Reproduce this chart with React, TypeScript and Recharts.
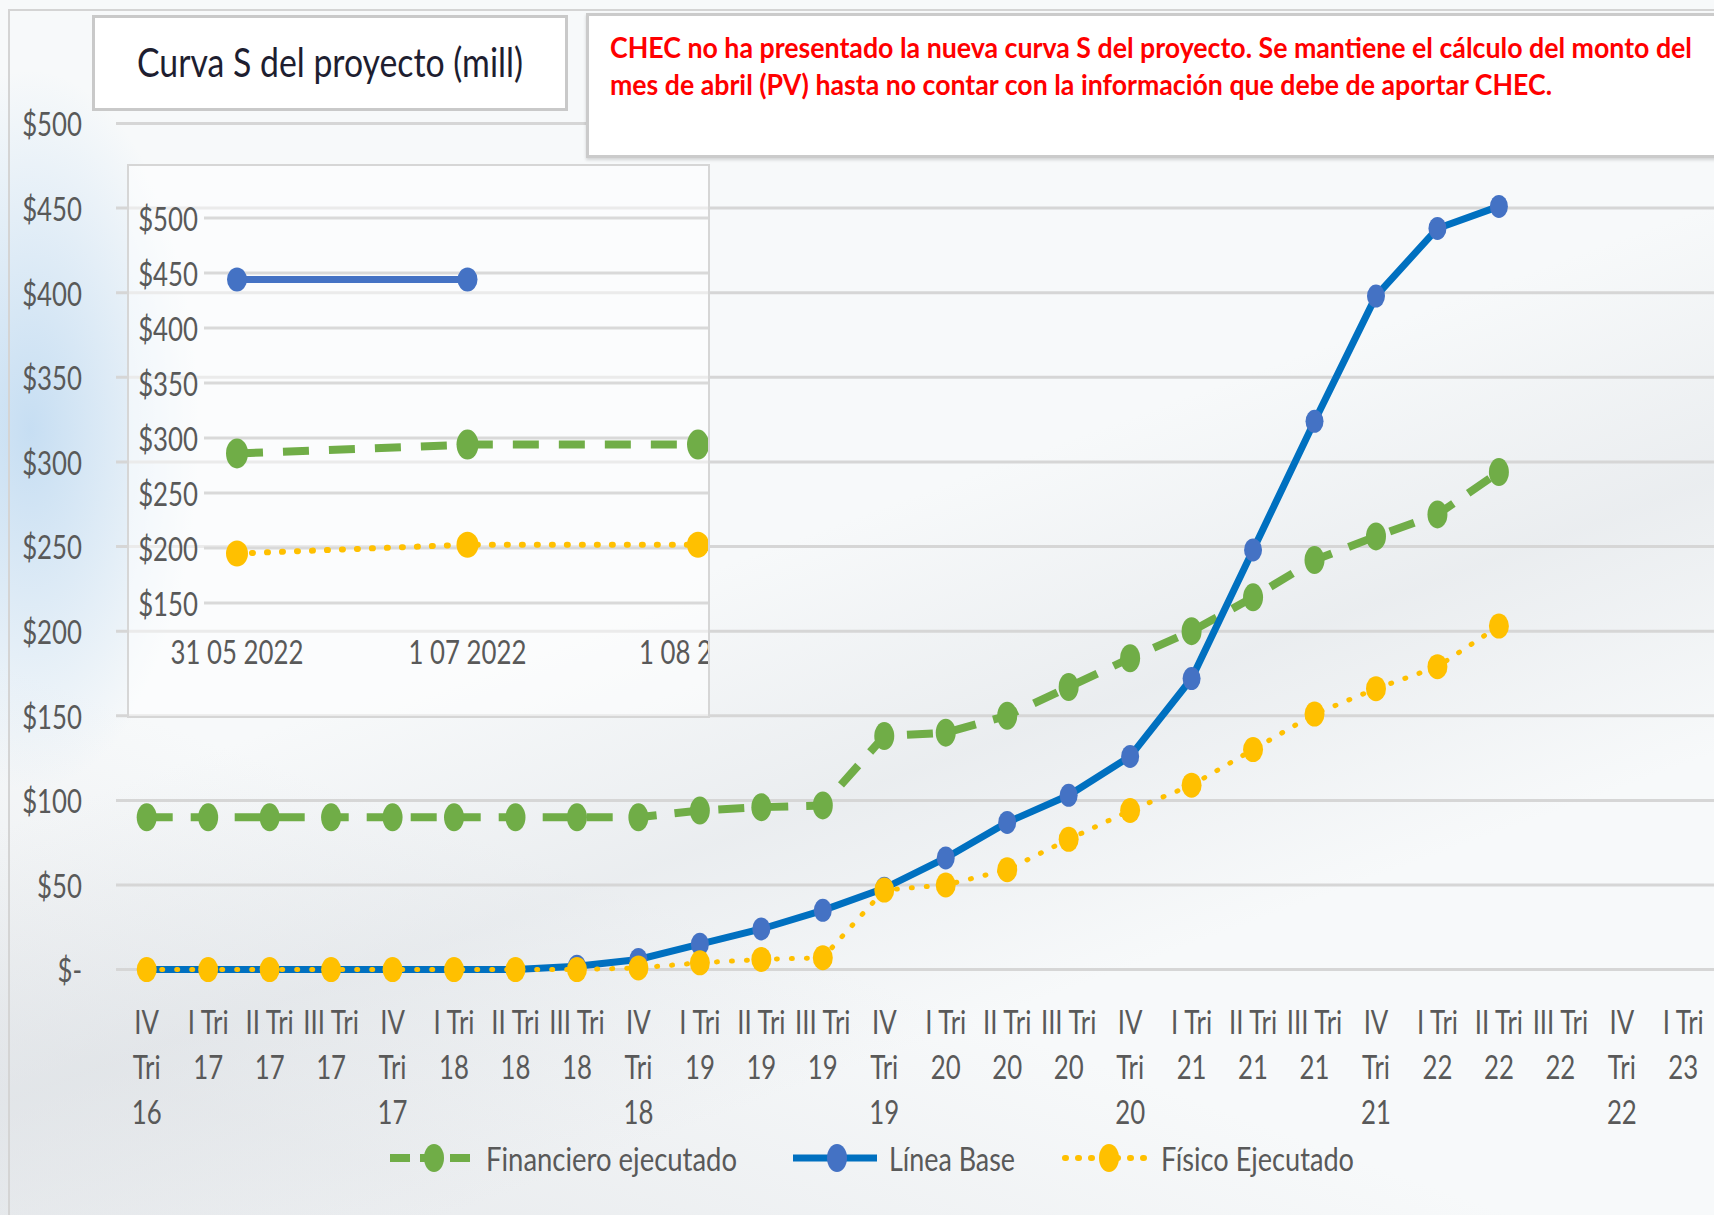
import React from 'react';
import { LineChart, Line, XAxis, YAxis, CartesianGrid } from 'recharts';

const FONT = "Lato, 'Open Sans', sans-serif";
const FS = 30;
const SX = 0.86;
const SY = 1.1;

// quarters on the main chart
const quarters = [
  'IV Tri 16', 'I Tri 17', 'II Tri 17', 'III Tri 17', 'IV Tri 17', 'I Tri 18', 'II Tri 18',
  'III Tri 18', 'IV Tri 18', 'I Tri 19', 'II Tri 19', 'III Tri 19', 'IV Tri 19', 'I Tri 20',
  'II Tri 20', 'III Tri 20', 'IV Tri 20', 'I Tri 21', 'II Tri 21', 'III Tri 21', 'IV Tri 21',
  'I Tri 22', 'II Tri 22', 'III Tri 22', 'IV Tri 22', 'I Tri 23',
];
const financiero = [90, 90, 90, 90, 90, 90, 90, 90, 90, 94, 96, 97, 138, 140, 150, 167, 184, 200, 220, 242, 256, 269, 294, null, null, null];
const lineaBase = [0, 0, 0, 0, 0, 0, 0, 2, 6, 15, 24, 35, 48, 66, 87, 103, 126, 172, 248, 324, 398, 438, 451, null, null, null];
const fisico = [0, 0, 0, 0, 0, 0, 0, 0, 1, 4, 6, 7, 47, 50, 59, 77, 94, 109, 130, 151, 166, 179, 203, null, null, null];
const mainTicks = [0, 50, 100, 150, 200, 250, 300, 350, 400, 450, 500];

// small zoomed chart
const insetDates = ['31 05 2022', '1 07 2022', '1 08 2022'];
const insetBase = [444, 444, null];
const insetFinanciero = [286, 294, 294];
const insetFisico = [195, 203, 203];
const insetTicks = [150, 200, 250, 300, 350, 400, 450, 500];

const GREEN = '#70AD47';
const BLUE_LINE = '#0070C0';
const BLUE_DOT = '#4472C4';
const YELLOW = '#FFC000';
const TEXT = '#595959';

const mainData = quarters.map((q, i) => ({
  q,
  financiero: financiero[i],
  base: lineaBase[i],
  fisico: fisico[i],
}));

const insetData = insetDates.map((d, i) => ({
  d,
  base: insetBase[i],
  financiero: insetFinanciero[i],
  fisico: insetFisico[i],
}));

const money = (v: number) => (v === 0 ? '$-' : `$${v}`);

const ellipseDot = (fill: string, rx: number, ry: number) => (props: any) => {
  const { cx, cy, index, value } = props;
  if (cx == null || cy == null || value == null) return <g key={`e-${index}`} />;
  return <ellipse key={`e-${index}`} cx={cx} cy={cy} rx={rx} ry={ry} fill={fill} />;
};

const MoneyTick = (props: any) => {
  const { x, y, payload } = props;
  return (
    <g transform={`translate(${x},${y})`}>
      <text transform={`scale(${SX},${SY})`} textAnchor="end" dominantBaseline="central" fill={TEXT} fontSize={FS} fontFamily={FONT}>
        {money(payload.value)}
      </text>
    </g>
  );
};

const QuarterTick = (props: any) => {
  const { x, y, payload } = props;
  const parts = String(payload.value).split(' ');
  const lines = parts[0] === 'IV' ? ['IV', 'Tri', parts[2]] : [`${parts[0]} Tri`, parts[2]];
  return (
    <g transform={`translate(${x},${y})`}>
      <text transform={`scale(${SX},${SY})`} textAnchor="middle" fill={TEXT} fontSize={FS} fontFamily={FONT}>
        {lines.map((l, i) => (
          <tspan key={i} x={0} dy={(i === 0 ? 62 : 45) / SY}>
            {l}
          </tspan>
        ))}
      </text>
    </g>
  );
};

const DateTick = (props: any) => {
  const { x, y, payload } = props;
  return (
    <g transform={`translate(${x},${y})`}>
      <text transform={`scale(${SX},${SY})`} y={59 / SY} textAnchor="middle" fill={TEXT} fontSize={FS} fontFamily={FONT}>
        {payload.value}
      </text>
    </g>
  );
};

const legendItems = [
  { name: 'Financiero ejecutado', color: GREEN, dot: GREEN, dash: '20 10', cap: 'butt', w: 8, left: 390, textW: 251 },
  { name: 'Línea Base', color: BLUE_LINE, dot: BLUE_DOT, dash: undefined, cap: 'butt', w: 7, left: 793, textW: 126 },
  { name: 'Físico Ejecutado', color: YELLOW, dot: YELLOW, dash: '1 12', cap: 'round', w: 6, left: 1065, textW: 193 },
];

function ChartLegend() {
  return (
    <svg width={1714} height={60} style={{ position: 'absolute', left: 0, top: 1129 }}>
      {legendItems.map((it) => (
        <g key={it.name} transform={`translate(${it.left},29)`}>
          <line x1={0} y1={0} x2={84} y2={0} stroke={it.color} strokeWidth={it.w} strokeDasharray={it.dash} strokeLinecap={it.cap as any} />
          <ellipse cx={44} cy={0} rx={10} ry={14} fill={it.dot} />
          <text
            x={96}
            y={0}
            dominantBaseline="central"
            fontFamily={FONT}
            fontSize={FS * SY}
            fill={TEXT}
            textLength={it.textW}
            lengthAdjust="spacingAndGlyphs"
          >
            {it.name}
          </text>
        </g>
      ))}
    </svg>
  );
}

function InsetChart() {
  return (
    <div
      style={{
        position: 'absolute',
        left: 127,
        top: 164,
        width: 579,
        height: 550,
        border: '2px solid #d6d6d6',
        background: 'rgba(255,255,255,0.5)',
        overflow: 'hidden',
      }}
    >
      <LineChart width={640} height={550} data={insetData} margin={{ top: 52, right: 0, bottom: 0, left: 0 }}>
        <CartesianGrid vertical={false} stroke="#d9d9d9" strokeWidth={3} />
        <XAxis
          dataKey="d"
          scale="point"
          padding={{ left: 33, right: 71 }}
          axisLine={false}
          tickLine={false}
          tickSize={0}
          height={113}
          tick={DateTick}
          interval={0}
        />
        <YAxis
          domain={[150, 500]}
          ticks={insetTicks}
          axisLine={false}
          tickLine={false}
          tickSize={0}
          tickMargin={6}
          width={75}
          tick={MoneyTick}
          interval={0}
        />
        <Line
          dataKey="financiero"
          stroke={GREEN}
          strokeWidth={8}
          strokeDasharray="26 20"
          dot={ellipseDot(GREEN, 11, 15)}
          isAnimationActive={false}
        />
        <Line
          dataKey="base"
          stroke={BLUE_DOT}
          strokeWidth={7}
          dot={ellipseDot(BLUE_DOT, 10, 12)}
          isAnimationActive={false}
        />
        <Line
          dataKey="fisico"
          stroke={YELLOW}
          strokeWidth={6}
          strokeDasharray="1 14"
          strokeLinecap="round"
          dot={ellipseDot(YELLOW, 11, 13)}
          isAnimationActive={false}
        />
      </LineChart>
    </div>
  );
}

export default function App() {
  return (
    <div
      style={{
        position: 'absolute',
        left: 0,
        top: 0,
        width: 1714,
        height: 1215,
        overflow: 'hidden',
        background:
          'radial-gradient(ellipse 230px 480px at 30px 430px, rgba(150,195,235,0.5), rgba(150,195,235,0) 75%),' +
          'linear-gradient(160deg, rgba(255,255,255,0) 45%, rgba(205,210,216,0.3) 60%, rgba(255,255,255,0) 75%),' +
          'linear-gradient(20deg, rgba(200,204,210,0.25) 10%, rgba(255,255,255,0) 30%),' +
          '#f7f9fa',
      }}
    >
      <div
        style={{
          position: 'absolute',
          left: 8,
          top: 9,
          right: -4,
          bottom: -4,
          borderLeft: '2px solid #d4d4d4',
          borderTop: '2px solid #d4d4d4',
        }}
      />
      <div style={{ position: 'absolute', left: 0, top: 0 }}>
        <LineChart width={1714} height={1215} data={mainData} margin={{ top: 123.5, right: 0, bottom: 95.4, left: 0 }}>
          <CartesianGrid vertical={false} stroke="#d6d6d6" strokeWidth={3} />
          <XAxis
            dataKey="q"
            scale="point"
            padding={{ left: 30.7, right: 30.7 }}
            axisLine={false}
            tickLine={false}
            tickSize={0}
            height={150}
            interval={0}
            tick={QuarterTick}
          />
          <YAxis
            domain={[0, 500]}
            ticks={mainTicks}
            axisLine={false}
            tickLine={false}
            tickSize={0}
            tickMargin={34}
            width={116}
            interval={0}
            tick={MoneyTick}
          />
          <Line
            dataKey="financiero"
            stroke={GREEN}
            strokeWidth={8}
            strokeDasharray="26 18"
            dot={ellipseDot(GREEN, 10, 14)}
            isAnimationActive={false}
          />
          <Line
            dataKey="base"
            stroke={BLUE_LINE}
            strokeWidth={7}
            dot={ellipseDot(BLUE_DOT, 9, 11.5)}
            isAnimationActive={false}
          />
          <Line
            dataKey="fisico"
            stroke={YELLOW}
            strokeWidth={5}
            strokeDasharray="1 14"
            strokeLinecap="round"
            dot={ellipseDot(YELLOW, 10, 12.5)}
            isAnimationActive={false}
          />
        </LineChart>
      </div>
      <InsetChart />
      <div
        style={{
          position: 'absolute',
          left: 92,
          top: 15,
          width: 470,
          height: 90,
          border: '3px solid #c9c9c9',
          background: '#fff',
        }}
      >
        <svg width={470} height={90} style={{ overflow: 'visible' }}>
          <text
            x={235 - 193}
            y={44}
            dominantBaseline="central"
            fontFamily={FONT}
            fontSize={40}
            fill="#1e1e30"
            textLength={386}
            lengthAdjust="spacingAndGlyphs"
          >
            Curva S del proyecto (mill)
          </text>
        </svg>
      </div>
      <div
        style={{
          position: 'absolute',
          left: 586,
          top: 13,
          width: 1200,
          height: 139,
          border: '3px solid #cbcbcb',
          boxShadow: '0 2px 3px rgba(0,0,0,0.15)',
          background: '#fff',
        }}
      >
        <svg width={1200} height={139} style={{ overflow: 'visible' }}>
          <text x={21} y={30} dominantBaseline="central" fontFamily={FONT} fontWeight="bold" fontSize={29} fill="#ff0000" textLength={1082} lengthAdjust="spacingAndGlyphs">
            CHEC no ha presentado la nueva curva S del proyecto. Se mantiene el cálculo del monto del
          </text>
          <text x={21} y={67} dominantBaseline="central" fontFamily={FONT} fontWeight="bold" fontSize={29} fill="#ff0000" textLength={942} lengthAdjust="spacingAndGlyphs">
            mes de abril (PV) hasta no contar con la información que debe de aportar CHEC.
          </text>
        </svg>
      </div>
      <ChartLegend />
    </div>
  );
}
